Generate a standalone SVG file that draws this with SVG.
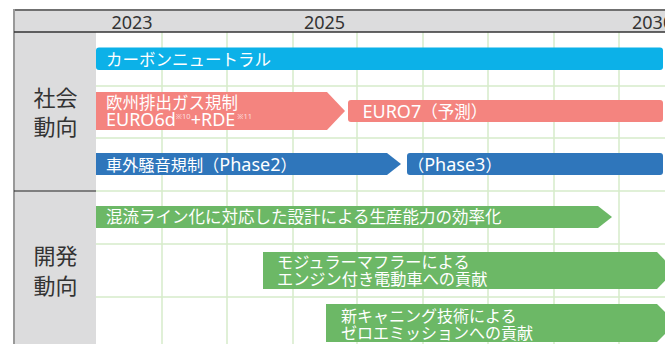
<svg xmlns="http://www.w3.org/2000/svg" width="665" height="344" viewBox="0 0 665 344">
<style>
text{font-family:"Noto Sans","Noto Sans CJK JP",sans-serif}
.yr{font-size:18px;fill:#333}
.lbl{font-size:22px;fill:#333;text-anchor:middle}
.bt{font-size:16.5px;fill:#fff}
.lat{font-size:18px}
.sup{font-size:7.5px;fill-opacity:0.75}
.grid{stroke:#d6ebca;stroke-width:1.5;fill:none}
.cyan{fill:#0cb1e8}
.red{fill:#f4847f}
.blue{fill:#2f76bb}
.green{fill:#6cb866}
</style>
<rect width="665" height="344" fill="#fff"/>
<g id="frame">
<rect x="14" y="10" width="651" height="22" fill="#dcdcdd"/>
<rect x="14" y="32" width="82" height="312" fill="#dcdcdd"/>
<g class="grid">
<path d="M162 32V344M227 32V344M293 32V344M357 32V344M423 32V344M488 32V344M554 32V344M619 32V344"/>
<path d="M96 86H665M96 138H665M96 191H665M96 244H665M96 297H665"/>
</g>
<line x1="14" y1="10" x2="665" y2="10" stroke="#707070" stroke-width="2"/>
<line x1="14" y1="9" x2="14" y2="344" stroke="#999" stroke-width="2"/>
<line x1="14" y1="32" x2="665" y2="32" stroke="#333" stroke-width="1.5"/>
<line x1="14" y1="191" x2="96" y2="191" stroke="#222" stroke-width="1.2"/>
</g>
<g id="years">
<text class="yr" x="132" y="28.5" text-anchor="middle">2023</text>
<text class="yr" x="324.5" y="28.5" text-anchor="middle">2025</text>
<text class="yr" x="632" y="28.5">2030</text>
</g>
<g id="label-social">
<text class="lbl" x="55.5" y="105.5">社会</text>
<text class="lbl" x="55.5" y="135">動向</text>
</g>
<g id="label-dev">
<text class="lbl" x="55.5" y="264">開発</text>
<text class="lbl" x="55.5" y="293.5">動向</text>
</g>
<g id="carbon-neutral">
<rect class="cyan" x="96" y="47.5" width="567" height="22.5" rx="3"/>
<text class="bt" x="106" y="65.5">カーボンニュートラル</text>
</g>
<g id="euro6d">
<polygon class="red" points="96,92 327,92 345,111 327,130 96,130"/>
<text class="bt" x="106" y="109">欧州排出ガス規制</text>
<text class="bt" x="106" y="126"><tspan class="lat">EURO6d</tspan><tspan class="sup" dy="-7.5">※10</tspan><tspan class="lat" dy="7.5">+RDE</tspan><tspan class="sup" dx="2" dy="-7.5">※11</tspan></text>
</g>
<g id="euro7">
<rect class="red" x="348" y="100" width="315" height="22" rx="3"/>
<text class="bt" x="362.5" y="118.3"><tspan class="lat">EURO7</tspan>（予測）</text>
</g>
<g id="noise-phase2">
<polygon class="blue" points="96,153 387,153 401,164 387,175 96,175"/>
<text class="bt" x="106" y="170.5" style="font-size:16.2px">車外騒音規制（<tspan class="lat">Phase2</tspan>）</text>
</g>
<g id="noise-phase3">
<rect class="blue" x="407" y="153" width="256" height="22" rx="3"/>
<text class="bt" x="408" y="170.5" style="font-size:16.2px">（<tspan class="lat">Phase3</tspan>）</text>
</g>
<g id="mixed-line">
<polygon class="green" points="96,206 598,206 612,217 598,228 96,228"/>
<text class="bt" x="106" y="223.3">混流ライン化に対応した設計による生産能力の効率化</text>
</g>
<g id="modular-muffler">
<polygon class="green" points="263,252 657,252 675,270.5 657,289 263,289"/>
<text class="bt" x="277" y="268" style="font-size:16.2px">モジュラーマフラーによる</text>
<text class="bt" x="277" y="284.5" style="font-size:16.2px">エンジン付き電動車への貢献</text>
</g>
<g id="canning">
<polygon class="green" points="326,304 657,304 676,323 657,342 326,342"/>
<text class="bt" x="341" y="321.5" style="font-size:16px">新キャニング技術による</text>
<text class="bt" x="341" y="338.5" style="font-size:16px">ゼロエミッションへの貢献</text>
</g>
<g id="connectors"/>
</svg>
